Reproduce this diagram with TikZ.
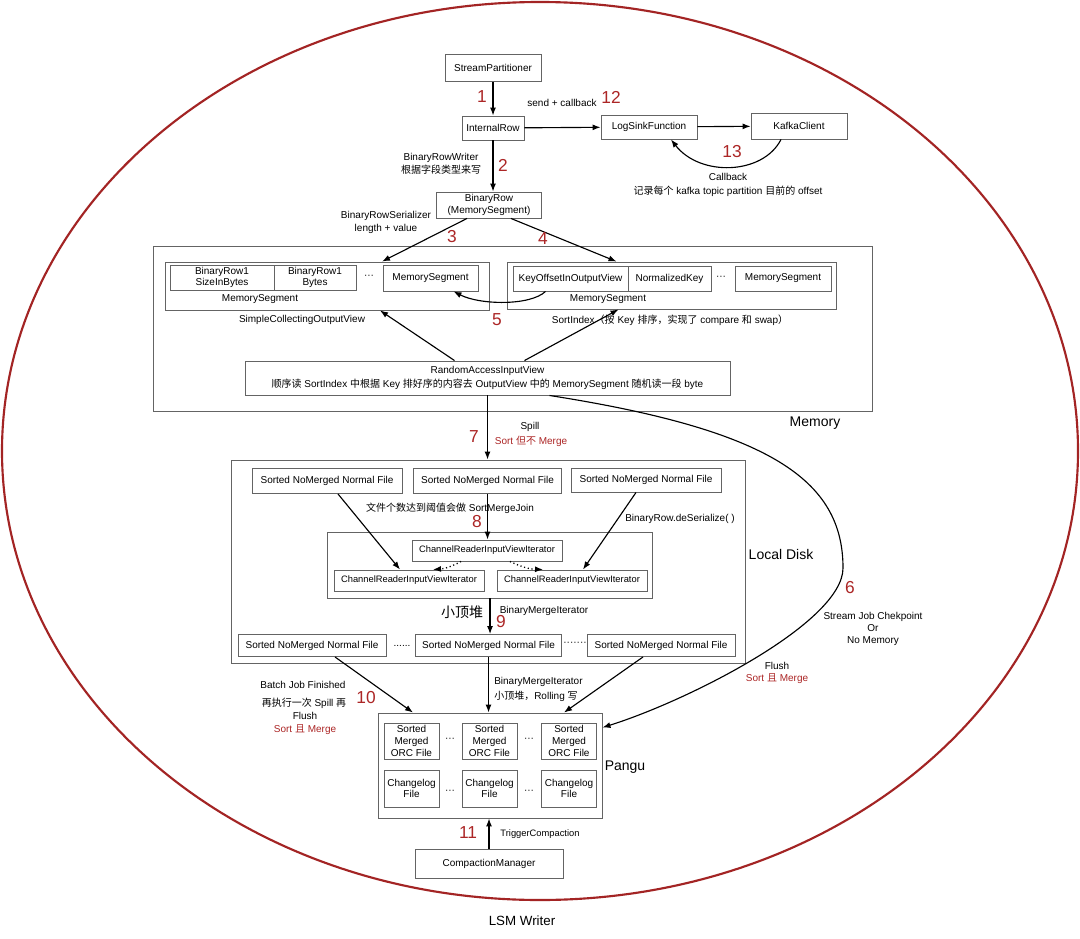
\documentclass[tikz,border=0pt]{standalone}
\usepackage{fontspec}
\setmainfont{Liberation Sans}
\newfontfamily\cjk{Noto Sans CJK SC}
\newcommand\zh[1]{{\cjk #1}}
\newcommand\fs{\fontsize{7.5}{9.8}\selectfont}
\newcommand\fsb{\fontsize{7.5}{8.7}\selectfont}
\newcommand\fss{\fontsize{7}{9}\selectfont}
\usetikzlibrary{arrows.meta,calc}
\definecolor{ring}{RGB}{163,36,36}
\definecolor{numred}{RGB}{172,38,38}
\definecolor{boxgray}{RGB}{100,100,100}
\begin{document}
\begin{tikzpicture}[x=0.75pt,y=-0.75pt,
  box/.style={draw=boxgray,line width=0.7pt,inner sep=0pt,align=center,font=\fsb},
  bw/.style={minimum width=#1*0.75pt},
  bh/.style={minimum height=#1*0.75pt},
  lbl/.style={inner sep=0pt,align=center,font=\fs},
  rlbl/.style={lbl,text=numred},
  num/.style={inner sep=0pt,font=\fontsize{13}{13}\selectfont,text=numred},
  big/.style={inner sep=0pt,font=\fontsize{10.5}{12}\selectfont},
  arr/.style={-{Latex[length=6pt,width=4.5pt]},line width=0.85pt},
  darr/.style={arr,dotted,line width=1pt},
]
\useasboundingbox (0,0) rectangle (1080,938);
\fill[white] (0,0) rectangle (1080,938);
\draw[ring,line width=1.6pt] (540,451) ellipse [x radius=538, y radius=449];

% top
\node[box,bw=96,bh=27] (sp) at (493,68) {StreamPartitioner};
\node[box,bw=62,bh=24] (ir) at (493,128) {InternalRow};
\node[box,bw=96,bh=24] (lsf) at (649,127) {LogSinkFunction};
\node[box,bw=96,bh=26] (kc) at (799,126) {KafkaClient};
\node[box,bw=105,bh=26] (br) at (489,205) {BinaryRow\\(MemorySegment)};

\draw[arr] (sp) -- (ir);
\draw[arr] (ir) -- (lsf);
\draw[arr] (lsf) -- (kc);
\draw[arr] ($(kc.south)+(-18,0)$) .. controls (763,175) and (700,177) .. ($(lsf.south)+(22,0)$);
\draw[arr] (ir.south) -- (ir.south |- br.north);

\node[num] at (482,97) {1};
\node[lbl] at (562,103) {send + callback};
\node[num] at (611,97) {12};
\node[num] at (732,152) {13};
\node[lbl,font=\fontsize{7.5}{10.5}\selectfont] at (728,185) {Callback\\\zh{记录每个} kafka topic partition \zh{目前的} offset};
\node[lbl] at (441,164) {BinaryRowWriter\\\zh{根据字段类型来写}};
\node[num] at (503,165) {2};

% memory
\node[box,bw=719,bh=165] (mem) at (512.5,328.5) {};
\node[big] at (815,423) {Memory};

\node[box,bw=324,bh=48] (lc) at (327,286) {};
\node[box,bw=104,bh=25] (c1) at (222,277.5) {BinaryRow1\\SizeInBytes};
\node[box,bw=82,bh=25] (c2) at (315,277.5) {BinaryRow1\\Bytes};
\node[lbl] at (369,277) {···};
\node[box,bw=95,bh=26] (ms1) at (430.5,278) {MemorySegment};
\node[lbl] at (260,299) {MemorySegment};
\node[lbl] at (302,320) {SimpleCollectingOutputView};

\node[box,bw=329,bh=47] (rc) at (671.5,285.5) {};
\node[box,bw=115,bh=25] (k1) at (570.5,278.5) {KeyOffsetInOutputView};
\node[box,bw=83,bh=25] (k2) at (669.5,278.5) {NormalizedKey};
\node[lbl] at (721,278) {···};
\node[box,bw=96,bh=25] (ms2) at (783,278.5) {MemorySegment};
\node[lbl] at (608,299) {MemorySegment};
\node[lbl] at (670,320) {SortIndex\zh{（按} Key \zh{排序，实现了} compare \zh{和} swap\zh{）}};

\draw[arr] ($(br.south)+(-22,0)$) -- ($(lc.north)+(55,0)$);
\draw[arr] ($(br.south)+(22,0)$) -- ($(rc.north)+(-55,0)$);
\node[lbl] at (386,222) {BinaryRowSerializer\\length + value};
\node[num] at (452,237) {3};
\node[num] at (543,239) {4};

\draw[arr] ($(k1.south)+(-25,0)$) .. controls (530,306) and (480,305) .. ($(ms1.south)+(23,0)$);
\node[num] at (497,320) {5};

\node[box,bw=485,bh=34,font=\fontsize{7.5}{10.5}\selectfont] (ra) at (487.5,378) {RandomAccessInputView\\\zh{顺序读} SortIndex \zh{中根据} Key \zh{排好序的内容去} OutputView \zh{中的} MemorySegment \zh{随机读一段} byte};
\draw[arr] ($(ra.north)+(-33,0)$) -- ($(lc.south)+(53,0)$);
\draw[arr] ($(ra.north)+(37,0)$) -- ($(rc.south)+(-53,0)$);

% local disk
\node[box,bw=514,bh=203] (ld) at (488,561.5) {};
\node[big] at (781,554) {Local Disk};
\draw[arr] (ra.south) -- (ra.south |- ld.north);
\node[lbl] at (530,427) {Spill};
\node[num] at (474,437) {7};
\node[rlbl] at (531,441) {Sort \zh{但不} Merge};

\node[box,bw=150,bh=25] (fa) at (327,481) {Sorted NoMerged Normal File};
\node[box,bw=148,bh=25] (fb) at (487.5,481) {Sorted NoMerged Normal File};
\node[box,bw=150,bh=24] (fc) at (646,480) {Sorted NoMerged Normal File};
\node[box,bw=325,bh=66] (im) at (490,565) {};
\node[box,bw=150,bh=21,font=\fss] (ct) at (487,550.5) {ChannelReaderInputViewIterator};
\node[box,bw=150,bh=21,font=\fss] (cl) at (409,580.5) {ChannelReaderInputViewIterator};
\node[box,bw=150,bh=21,font=\fss] (cr) at (572,580.5) {ChannelReaderInputViewIterator};
\draw[arr] ($(fa.south)+(11,0)$) -- ($(cl.north)+(-9,0)$);
\draw[arr] (fb.south) -- (fb.south |- ct.north);
\draw[arr] ($(fc.south)+(-10,0)$) -- ($(cr.north)+(11,0)$);
\draw[darr] ($(ct.south)+(-26,0)$) to[bend left=12] ($(cl.north)+(24,0)$);
\draw[darr] ($(ct.south)+(23,0)$) to[bend right=12] ($(cr.north)+(-29,0)$);
\node[lbl] at (450,508) {\zh{文件个数达到阈值会做} SortMergeJoin};
\node[num] at (477,522) {8};
\node[lbl] at (680,519) {BinaryRow.deSerialize( )};

\node[box,bw=148,bh=22] (fl) at (312,645.5) {Sorted NoMerged Normal File};
\node[lbl] at (402,646) {......};
\node[box,bw=146,bh=22] (fm) at (488.5,645.5) {Sorted NoMerged Normal File};
\node[lbl] at (575,644) {·······};
\node[box,bw=148,bh=22] (fr) at (661,645.5) {Sorted NoMerged Normal File};
\draw[arr] (im.south) -- (im.south |- fm.north);
\node[big] at (462,612) {\zh{小顶堆}};
\node[lbl] at (544,611) {BinaryMergeIterator};
\node[num] at (501,622) {9};

% pangu
\node[box,bw=224,bh=105] (pg) at (490,765.5) {};
\node[big] at (625,767) {Pangu};
\node[box,bw=55,bh=36] (o1) at (411.5,741) {Sorted\\Merged\\ORC File};
\node[box,bw=55,bh=36] (o2) at (489.5,741) {Sorted\\Merged\\ORC File};
\node[box,bw=55,bh=36] (o3) at (569,741) {Sorted\\Merged\\ORC File};
\node[box,bw=55,bh=37] (g1) at (411.5,788.5) {Changelog\\File};
\node[box,bw=55,bh=37] (g2) at (489.5,788.5) {Changelog\\File};
\node[box,bw=55,bh=37] (g3) at (569,788.5) {Changelog\\File};
\node[lbl] at (450,740) {···};
\node[lbl] at (529,740) {···};
\node[lbl] at (450,792) {···};
\node[lbl] at (529,792) {···};

\draw[arr] ($(fl.south)+(23,0)$) -- ($(pg.north)+(-77,0)$);
\draw[arr] (fm.south) -- (fm.south |- pg.north);
\draw[arr] ($(fr.south)+(-18,0)$) -- ($(pg.north)+(74,0)$);
\coordinate (c6) at (843,568);
\draw[arr] ($(ra.south)+(62,0)$) .. controls (770,430) and (843,480) .. (c6) .. controls (843,622) and (690,700) .. ($(pg.north east)+(0,15)$);

\node[lbl] at (303,685) {Batch Job Finished};
\node[lbl] at (304,703) {\zh{再执行一次} Spill \zh{再}};
\node[lbl] at (305,716) {Flush};
\node[rlbl] at (305,730) {Sort \zh{且} Merge};
\node[num] at (366,698) {10};
\node[lbl,anchor=west] at (494,682) {BinaryMergeIterator};
\node[lbl,anchor=west] at (494,696) {\zh{小顶堆，}Rolling \zh{写}};

\node[num] at (850,588) {6};
\node[lbl,font=\fontsize{7.5}{9.2}\selectfont] at (873,629) {Stream Job Chekpoint\\Or\\No Memory};
\node[lbl] at (777,666) {Flush};
\node[rlbl] at (777,679) {Sort \zh{且} Merge};

% compaction
\node[box,bw=148,bh=29] (cm) at (489,864) {CompactionManager};
\draw[arr] (cm.north) -- (cm.north |- pg.south);
\node[num] at (468,833) {11};
\node[lbl,font=\fss] at (540,834) {TriggerCompaction};
\node[inner sep=0pt,font=\fontsize{10}{12}\selectfont] at (522,921) {LSM Writer};
\end{tikzpicture}
\end{document}
